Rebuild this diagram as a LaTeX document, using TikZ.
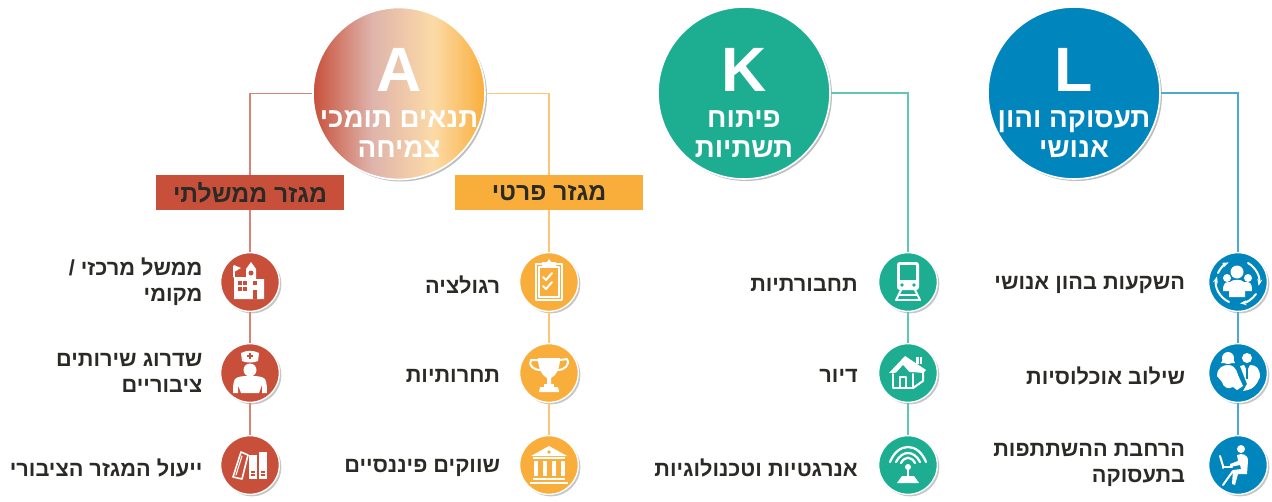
\documentclass[tikz,border=0pt]{standalone}
\usepackage{fontspec}
\setmainfont{Liberation Sans}
\newfontfamily\hebfont[Script=Hebrew]{Liberation Sans}
\TeXXeTstate=1
\usetikzlibrary{positioning,shadows,arrows.meta}

\definecolor{blueL}{HTML}{0085BD}
\definecolor{tealK}{HTML}{1DAE92}
\definecolor{orangeA}{HTML}{F9AE3B}
\definecolor{redA}{HTML}{C8503A}
\definecolor{inkdark}{HTML}{2B2A26}

\pgfdeclarehorizontalshading{shadeA}{100bp}{
  color(0bp)=(redA); color(25bp)=(redA); color(42bp)=(redA!40!white!90!gray);
  color(60bp)=(orangeA!45!white); color(75bp)=(orangeA); color(100bp)=(orangeA)}

\newcommand{\heb}[1]{\beginR #1\endR}

\tikzset{
  bigdisc/.style={circle, draw=white, line width=1.2pt, minimum size=129pt, inner sep=0pt,
    drop shadow={shadow xshift=1.5pt, shadow yshift=-1.5pt, opacity=.25, fill=black}},
  icondisc/.style={circle, draw=white, line width=1pt, minimum size=44pt, inner sep=0pt,
    drop shadow={shadow xshift=1.5pt, shadow yshift=-1.5pt, opacity=.22, fill=black}},
  letter/.style={font=\bfseries\fontsize{47}{47}\selectfont, text=white, inner sep=0pt},
  headtext/.style={font=\hebfont\bfseries\fontsize{20.8}{23}\selectfont, text=white, align=center, inner sep=0pt},
  itemtext/.style={font=\hebfont\bfseries\fontsize{16.3}{19.5}\selectfont, text=inkdark, align=right, inner sep=0pt},
  itemone/.style={itemtext, yshift=-2.2pt},
  sectorbox/.style={minimum width=141pt, minimum height=26.5pt, inner sep=0pt,
    font=\hebfont\bfseries\fontsize{18.5}{20}\selectfont, text=inkdark},
  wire/.style={line width=.9pt},
  ico/.style={draw=white, line width=1.5pt, line cap=round, line join=round}
}

\begin{document}
\begin{tikzpicture}[x=0.75pt, y=0.75pt]
    \useasboundingbox (0,0) rectangle (1272,501);

    % The three big discs
    \node[bigdisc, fill=blueL] (bigL) at (1074,408) {};
    \node[bigdisc, fill=tealK] (bigK) at (744,408) {};
    \node[bigdisc, shading=shadeA] (bigA) at (399,407.5) {};
    \node[letter] (letL) at (1074,431) {L};
    \node[letter] (letK) at (744,431) {K};
    \node[letter] (letA) at (399,431) {A};
    \node[headtext] (headL) at (1074,367) {\heb{תעסוקה והון}\\\heb{אנושי}};
    \node[headtext] (headK) at (744,367) {\heb{פיתוח}\\\heb{תשתיות}};
    \node[headtext] (headA) at (399,367) {\heb{תנאים תומכי}\\\heb{צמיחה}};

    % The sector boxes
    \node[sectorbox, fill=orangeA] (boxP) at (549,308.5) {\heb{מגזר פרטי}};
    \node[sectorbox, fill=redA] (boxG) at (250,308.5) {\heb{מגזר ממשלתי}};

    % Icon discs
    \node[icondisc, fill=blueL] (iconL1) at (1238,219) {};
    \node[icondisc, fill=blueL] (iconL2) at (1238,128) {};
    \node[icondisc, fill=blueL] (iconL3) at (1238,36) {};
    \node[icondisc, fill=tealK] (iconK1) at (908,219) {};
    \node[icondisc, fill=tealK] (iconK2) at (908,128) {};
    \node[icondisc, fill=tealK] (iconK3) at (908,36) {};
    \node[icondisc, fill=orangeA] (iconP1) at (549,219) {};
    \node[icondisc, fill=orangeA] (iconP2) at (549,128) {};
    \node[icondisc, fill=orangeA] (iconP3) at (549,36) {};
    \node[icondisc, fill=redA] (iconG1) at (250,219) {};
    \node[icondisc, fill=redA] (iconG2) at (250,128) {};
    \node[icondisc, fill=redA] (iconG3) at (250,36) {};

    % Item labels
    \node[itemone, left=17pt of iconL1, anchor=east] (itemL1) {\heb{השקעות בהון אנושי}};
    \node[itemone, left=17pt of iconL2, anchor=east] (itemL2) {\heb{שילוב אוכלוסיות}};
    \node[itemtext, left=17pt of iconL3, anchor=east] (itemL3) {\heb{הרחבת ההשתתפות}\\\heb{בתעסוקה}};
    \node[itemone, left=15pt of iconK1, anchor=east] (itemK1) {\heb{תחבורתיות}};
    \node[itemone, left=15pt of iconK2, anchor=east] (itemK2) {\heb{דיור}};
    \node[itemone, left=15pt of iconK3, anchor=east] (itemK3) {\heb{אנרגטיות וטכנולוגיות}};
    \node[itemone, left=14pt of iconP1, anchor=east] (itemP1) {\heb{רגולציה}};
    \node[itemone, left=14pt of iconP2, anchor=east] (itemP2) {\heb{תחרותיות}};
    \node[itemone, left=14pt of iconP3, anchor=east] (itemP3) {\heb{שווקים פיננסיים}};
    \node[itemtext, left=13pt of iconG1, anchor=east] (itemG1) {\heb{ממשל מרכזי /}\\\heb{מקומי}};
    \node[itemtext, left=13pt of iconG2, anchor=east] (itemG2) {\heb{שדרוג שירותים}\\\heb{ציבוריים}};
    \node[itemone, left=13pt of iconG3, anchor=east] (itemG3) {\heb{ייעול המגזר הציבורי}};

    % Connectors
    \draw[wire, blueL!70!white] (bigL.east) -| (iconL1.north);
    \draw[wire, blueL!70!white] (iconL1) -- (iconL2);
    \draw[wire, blueL!70!white] (iconL2) -- (iconL3);
    \draw[wire, tealK!70!white] (bigK.east) -| (iconK1.north);
    \draw[wire, tealK!70!white] (iconK1) -- (iconK2);
    \draw[wire, tealK!70!white] (iconK2) -- (iconK3);
    \draw[wire, orangeA!70!white] (bigA.east) -| (boxP.north);
    \draw[wire, orangeA!70!white] (boxP) -- (iconP1);
    \draw[wire, orangeA!70!white] (iconP1) -- (iconP2);
    \draw[wire, orangeA!70!white] (iconP2) -- (iconP3);
    \draw[wire, redA!70!white] (bigA.west) -| (boxG.north);
    \draw[wire, redA!70!white] (boxG) -- (iconG1);
    \draw[wire, redA!70!white] (iconG1) -- (iconG2);
    \draw[wire, redA!70!white] (iconG2) -- (iconG3);

    % Icon: people with arrows
    \begin{scope}[shift={(iconL1.center)}]
        \fill[white] (-1,10) circle (6.5);
        \fill[white] (-11,4) circle (4);
        \fill[white] (10,4) circle (4);
        \fill[white] (-15,-9) .. controls (-15,0) and (-12,0) .. (-8,0) .. controls (-5,3) and (3,3) .. (6,0)
            .. controls (12,0) and (14,0) .. (14,-9) -- (7,-9) -- (7,-15) -- (-9,-15) -- (-9,-9) -- cycle;
        \draw[ico, -{Stealth[length=5pt]}] (10,19) arc (60:-10:22) ;
        \draw[ico, -{Stealth[length=5pt]}] (18,-12) arc (-35:-85:22);
        \draw[ico, -{Stealth[length=5pt]}] (-9,-20) arc (245:165:22);
        \draw[ico, -{Stealth[length=5pt]}] (-20,9) arc (155:115:22);
    \end{scope}

    % Icon: two people
    \begin{scope}[shift={(iconL2.center)}]
        \fill[white] (-10,15) circle (6);
        \fill[white] (-17,10) -- (-3,10) -- (-5,14) -- (-15,14) -- cycle;
        \fill[white] (9,15) circle (5);
        \fill[white] (-21,-3) .. controls (-21,6) and (-14,8) .. (-10,8) .. controls (-6,8) and (-2,6) .. (0,-2)
            -- (5,-13) -- (-1,-17) -- (-5,-14) .. controls (-10,-17) and (-15,-14) .. (-16,-9) -- cycle;
        \fill[white] (2,7) -- (6,8) -- (9,2) -- (12,8) .. controls (18,8) and (22,5) .. (22,-4) -- (19,-10)
            .. controls (16,-15) and (12,-17) .. (5,-18) -- (9,-11) -- cycle;
        \draw[blueL, line width=.8pt] (9,5) -- (9,-6);
    \end{scope}

    % Icon: person with laptop
    \begin{scope}[shift={(iconL3.center)}]
        \fill[white] (3,16) circle (4);
        \fill[white] (-1,10) .. controls (4,12) and (10,11) .. (10,4) -- (9,-9) -- (0,-9) -- (-3,-20) -- (-6,-19)
            -- (-5,-5) -- (3,-4) -- (2,0) -- (-8,-2) -- (-8,1) -- (0,4) -- cycle;
        \draw[ico] (-5,-6) -- (-15,-20);
        \draw[ico] (-15,-3) -- (-15,-1) -- (-18,9);
        \draw[ico] (-15,-2) -- (-6,-2);
    \end{scope}

    % Icon: train
    \begin{scope}[shift={(iconK1.center)}]
        \fill[white, rounded corners=2pt] (-11,-8) rectangle (11,20);
        \fill[tealK] (-8,17) rectangle (8,2);
        \fill[tealK] (-6,-3) circle (1.8);
        \fill[tealK] (6,-3) circle (1.8);
        \draw[ico] (-7,-8) -- (-12,-18);
        \draw[ico] (7,-8) -- (12,-18);
        \draw[ico] (-9,-13) -- (9,-13);
        \draw[ico] (-12,-18) -- (12,-18);
    \end{scope}

    % Icon: house
    \begin{scope}[shift={(iconK2.center)}]
        \fill[white] (-19,0) -- (-3,17) -- (18,3) -- (15,0) -- (5,1) -- cycle;
        \fill[tealK] (-13,-1) -- (-5,8) -- (3,-1) -- cycle;
        \fill[white] (8,9) rectangle (14,16);
        \draw[tealK, line width=.7pt] (11,9) -- (11,16);
        \draw[ico] (-15,-1) -- (-15,-15) -- (5,-15) -- (5,-1);
        \draw[ico] (5,-15) -- (15,-8) -- (15,1);
        \draw[ico] (-8,-15) -- (-8,-4) -- (-2,-4) -- (-2,-15);
    \end{scope}

    % Icon: antenna
    \begin{scope}[shift={(iconK3.center)}]
        \draw[ico, line width=1.7pt] (-18,3) .. controls (-10,23) and (10,23) .. (18,3);
        \draw[ico, line width=1.7pt] (-12,3) .. controls (-6,15) and (6,15) .. (12,3);
        \draw[ico, line width=1.7pt] (-7,2) .. controls (-3,9) and (3,9) .. (7,2);
        \fill[white] (0,-2) circle (3);
        \draw[ico] (0,-2) -- (0,-12);
        \fill[white] (-11,-18) -- (-6,-11) -- (6,-11) -- (11,-18) -- cycle;
    \end{scope}

    % Icon: clipboard
    \begin{scope}[shift={(iconP1.center)}]
        \draw[ico] (-13,18) rectangle (13,-18);
        \draw[ico, line width=.8pt] (-10,15) rectangle (10,-15);
        \fill[white] (-7,15) -- (-7,20) -- (-2,20) -- (0,23) -- (2,20) -- (7,20) -- (7,15) -- cycle;
        \draw[ico] (-6,5) -- (-3,2) -- (3,9);
        \draw[ico] (-6,-4) -- (-3,-7) -- (3,0);
    \end{scope}

    % Icon: trophy
    \begin{scope}[shift={(iconP2.center)}]
        \fill[white] (-11,15) -- (11,15) .. controls (11,3) and (6,-3) .. (2,-5) -- (2,-11) -- (-2,-11) -- (-2,-5)
            .. controls (-6,-3) and (-11,3) .. (-11,15) -- cycle;
        \fill[white] (-5,-11) rectangle (5,-14);
        \fill[white] (-9,-14) -- (9,-14) -- (10,-19) -- (-10,-19) -- cycle;
        \draw[ico] (-11,13) -- (-18,13) .. controls (-21,8) and (-16,3) .. (-8,3);
        \draw[ico] (11,13) -- (18,14) .. controls (21,8) and (16,3) .. (8,3);
    \end{scope}

    % Icon: bank
    \begin{scope}[shift={(iconP3.center)}]
        \fill[white] (-18,9) -- (0,19) -- (18,9) -- cycle;
        \fill[orangeA] (0,13) circle (1.8);
        \fill[white] (-16,8) rectangle (16,6);
        \foreach \xcol in {-14,-5,4,13} {
            \fill[white] (\xcol-1,4) rectangle ++(4,-15);
        }
        \fill[white] (-16,-13) rectangle (16,-15);
        \fill[white] (-19,-17) rectangle (19,-19);
    \end{scope}

    % Icon: school
    \begin{scope}[shift={(iconG1.center)}]
        \fill[white] (-4,13) -- (1,20) -- (6,13) -- (6,3) -- (14,3) -- (14,-17) -- (-16,-17) -- (-16,5) -- (-4,5) -- cycle;
        \draw[ico, line width=.8pt] (-16,5) -- (-16,16);
        \fill[white] (-16,17) -- (-9,14) -- (-16,10) -- cycle;
        \fill[redA] (1,9) circle (2.5);
        \fill[redA] (-12,1) rectangle (-8,-3);
        \fill[redA] (-7,1) rectangle (-3,-3);
        \fill[redA] (-12,-5) rectangle (-8,-9);
        \fill[redA] (-7,-5) rectangle (-3,-9);
        \fill[redA] (3,1) rectangle (7,-3);
        \fill[redA] (3,-8) rectangle (7,-17);
    \end{scope}

    % Icon: nurse
    \begin{scope}[shift={(iconG2.center)}]
        \fill[white] (0,3) circle (6.5);
        \fill[white] (-8,12) -- (-9,20) .. controls (-3,23) and (3,23) .. (9,20) -- (8,12)
            .. controls (4,10) and (-4,10) .. (-8,12) -- cycle;
        \draw[redA, line width=.9pt] (-3,17) -- (3,17) (0,14) -- (0,20);
        \fill[white] (-15,-6) .. controls (-12,-3) and (-6,-3) .. (0,-3) .. controls (6,-3) and (12,-3) .. (15,-6)
            .. controls (17,-9) and (17,-17) .. (17,-20) -- (12,-20) -- (12,-12) -- (9,-20) -- (-9,-20) -- (-12,-12) -- (-12,-20) -- (-17,-20)
            .. controls (-17,-15) and (-17,-9) .. (-15,-6) -- cycle;
    \end{scope}

    % Icon: books
    \begin{scope}[shift={(iconG3.center)}]
        \draw[ico, line width=1.2pt] (-9,13) -- (-2,10) -- (-8,-14) -- (-17,-12) -- cycle;
        \draw[ico, line width=.8pt] (-8,9) -- (-14,-10);
        \fill[white] (-1,10) rectangle (7,-14);
        \fill[white] (9,13) rectangle (17,-14);
        \draw[redA, line width=.8pt] (1,-7) -- (5,-7) (1,-10) -- (5,-10);
        \draw[redA, line width=.8pt] (11,-7) -- (15,-7) (11,-10) -- (15,-10);
    \end{scope}
\end{tikzpicture}
\end{document}
